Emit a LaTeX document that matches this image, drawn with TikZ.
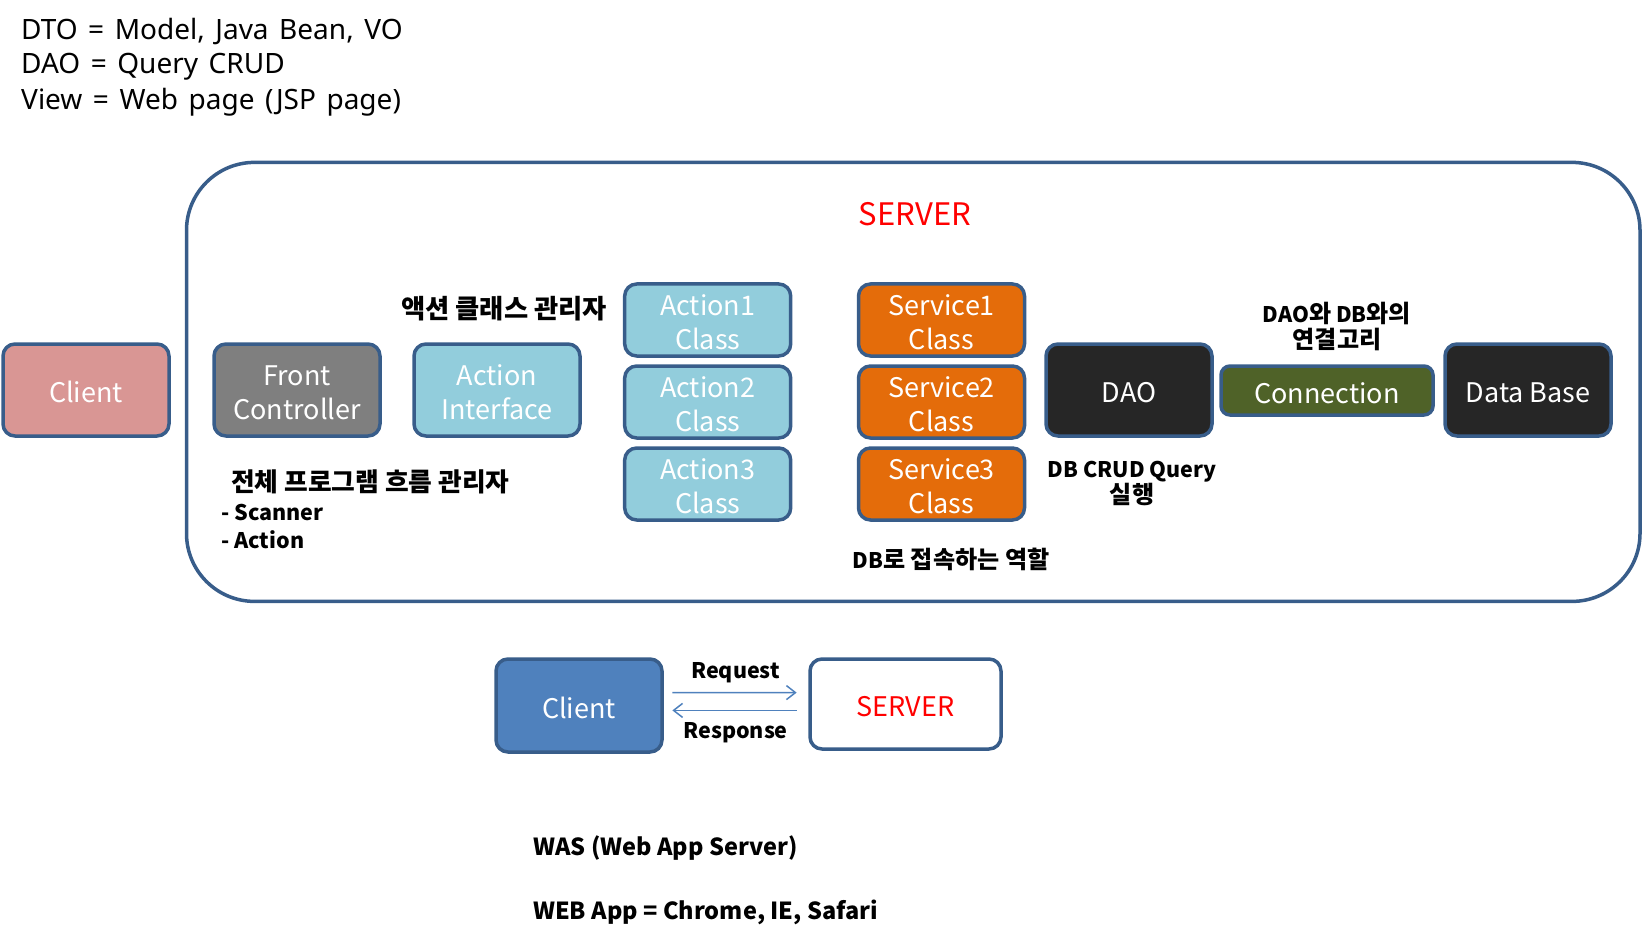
\documentclass[tikz,border=0pt]{standalone}
\usepackage{fontspec}
\setmainfont{Noto Sans CJK KR}
\newfontfamily\keyfont{Noto Sans}[WordSpace=1.45]
\newfontfamily\kr{Noto Sans CJK KR}[Scale=1.12]
\usepackage{tikz}
\usetikzlibrary{positioning,arrows.meta,calc}
\definecolor{edge}     {HTML}{385D8A}
\definecolor{clientred}{HTML}{D99694}
\definecolor{ctrlgray} {HTML}{7F7F7F}
\definecolor{actblue}  {HTML}{92CDDC}
\definecolor{svcorange}{HTML}{E46C0A}
\definecolor{daoblack} {HTML}{262626}
\definecolor{conngreen}{HTML}{4F6228}
\definecolor{webblue}  {HTML}{4F81BD}
\definecolor{srvred}   {HTML}{FF0000}
\newcommand\boxstrut{\rule{0pt}{25.5pt}}
\tikzset{
  % --- nodes
  box/.style   = {rounded corners=12pt, draw=edge, line width=3.5pt, align=center,
                  inner sep=0pt, minimum width=166pt, minimum height=92pt,
                  text=white, font=\fontsize{27}{34.5}\selectfont},
  cls/.style   = {box, minimum height=72pt},
  note/.style  = {font=\bfseries\fontsize{21.5}{26}\selectfont, align=center, inner sep=0pt},
  key/.style   = {font=\keyfont\fontsize{28}{33}\selectfont, anchor=west, inner sep=0pt},
  % --- edges
  rr/.style    = {-{Straight Barb[length=9pt,width=14pt]}, draw=webblue, line width=1.5pt},
}
\begin{document}
\begin{tikzpicture}[x=1pt,y=-1pt]
  \useasboundingbox (0,0) rectangle (1643,933);

  % legend
  \node[key] (dto)  at (21,31.5) {DTO = Model, Java Bean, VO};
  \node[key] (dao0) at (21,67)   {DAO = Query CRUD};
  \node[key] (view) at (21,102.5){View = Web page (JSP page)};

  % server frame
  \node[draw=edge, line width=3.5pt, rounded corners=68pt, minimum width=1453.5pt,
        minimum height=439pt, inner sep=0pt] (srv) at (913.25,381.9) {};
  \node[text=srvred, font=\fontsize{31}{36}\selectfont] (srvt) at (915,214) {SERVER};

  \node[box, fill=clientred] (cl) at (86,390) {\boxstrut Client};
  \node[box, fill=ctrlgray]  (fc) at (297,390) {\boxstrut Front\\Controller};
  \node[box, fill=actblue]   (ai) at (497,390) {\boxstrut Action\\Interface};

  \node[cls, fill=actblue] (a1) at (707.7,320) {\boxstrut Action1\\Class};
  \node[cls, fill=actblue] (a2) at (707.7,402) {\boxstrut Action2\\Class};
  \node[cls, fill=actblue] (a3) at (707.7,484) {\boxstrut Action3\\Class};

  \node[cls, fill=svcorange] (s1) at (941.5,320) {\boxstrut Service1\\Class};
  \node[cls, fill=svcorange] (s2) at (941.5,402) {\boxstrut Service2\\Class};
  \node[cls, fill=svcorange] (s3) at (941.5,484) {\boxstrut Service3\\Class};

  \node[box, fill=daoblack] (dao) at (1129,390) {\boxstrut DAO};
  \node[box, fill=conngreen, rounded corners=9pt, minimum width=212pt,
        minimum height=49pt] (con) at (1327,390.5) {\boxstrut Connection};
  \node[box, fill=daoblack] (db) at (1528,390) {\boxstrut Data Base};

  % notes
  \node[note] (ain) at (504,309) {{\kr\fontsize{23.5}{26}\selectfont 액션 클래스 관리자}};
  \node[note, align=left, anchor=north west, font=\bfseries\fontsize{21.5}{28.5}\selectfont]
        (fcn) at (221,470) {\hspace{10pt}{\kr\fontsize{23}{28.5}\selectfont 전체 프로그램 흐름 관리자}\\- Scanner\\- Action};
  \node[note] (svn)  at (951,559) {DB{\kr 로 접속하는 역할}};
  \node[note] (daon) at (1132,484) {DB CRUD Query\\{\kr 실행}};
  \node[note] (conn) at (1337,326) {DAO{\kr 와} DB{\kr 와의}\\{\kr 연결고리}};

  % request / response
  \node[box, fill=webblue, minimum height=93pt] (cl2) at (579,705.5) {\boxstrut Client};
  \node[box, fill=white, text=srvred, minimum width=191pt, minimum height=90pt]
        (sv2) at (905.5,704) {\boxstrut SERVER};
  \draw[rr] ([xshift=8.6pt,yshift=13pt]cl2.east) -- ([xshift=-11.6pt,yshift=11.4pt]sv2.west);
  \draw[rr] ([xshift=-11.6pt,yshift=-6.4pt]sv2.west) -- ([xshift=8.6pt,yshift=-4.9pt]cl2.east);
  \node[note] (req) at (735.5,673) {Request};
  \node[note] (rsp) at (735.5,733) {Response};

  \node[key, font=\bfseries\fontsize{23.5}{26}\selectfont] (was) at (533,848) {WAS (Web App Server)};
  \node[key, font=\bfseries\fontsize{23.5}{26}\selectfont] (web) at (533,912) {WEB App = Chrome, IE, Safari};
\end{tikzpicture}
\end{document}
